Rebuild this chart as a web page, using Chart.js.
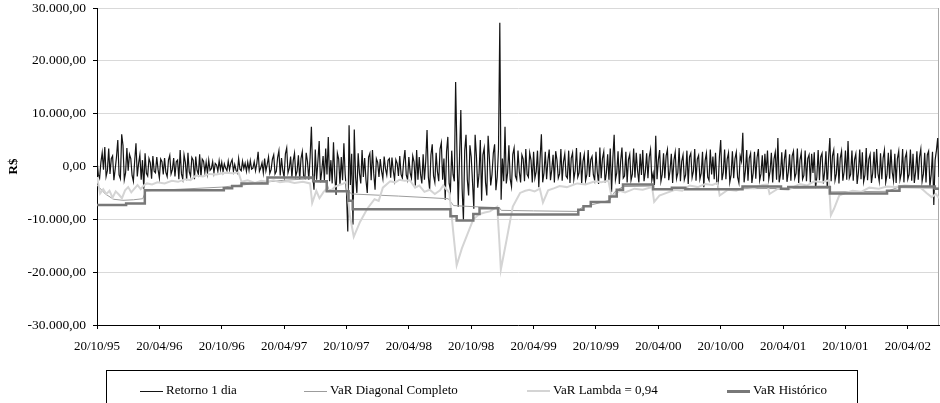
<!DOCTYPE html>
<html><head><meta charset="utf-8">
<script src="https://cdn.jsdelivr.net/npm/chart.js@4.4.1/dist/chart.umd.min.js"></script>
<style>
html,body{margin:0;padding:0;background:#fff;width:940px;height:403px;overflow:hidden;}
#wrap{position:relative;width:940px;height:403px;}
canvas{position:absolute;left:0;top:0;}
#legend{position:absolute;left:106px;top:370px;width:752px;height:45px;border:1px solid #000;box-sizing:border-box;font-family:"Liberation Serif","Times New Roman",serif;font-size:13px;color:#000;}
.item{position:absolute;top:11px;height:16px;line-height:16px;white-space:nowrap;}
.sw{display:inline-block;width:23px;vertical-align:middle;margin-right:3px;}
</style></head>
<body><div id="wrap"><canvas id="c" width="940" height="403"></canvas><div id="legend"></div></div>
<script>
// ---- data ----
const tickLabels = ['20/10/95','20/04/96','20/10/96','20/04/97','20/10/97','20/04/98','20/10/98','20/04/99','20/10/99','20/04/00','20/10/00','20/04/01','20/10/01','20/04/02'];
const tickMonths = [0,6,12,18,24,30,36,42,48,54,60,66,72,78]; // months after 20/10/95
const lastMonth = 81;
const retornoStep = 0.125; // months between samples
const retorno = [
 1200,-1500,-2200,800,2600,-600,3700,-1900,-800,3400,-1400,1500,2000,-2600,-500,1800,
 5000,-1600,-2300,6100,4000,-2500,-1200,3500,-800,2300,1500,-1700,-2800,1100,4400,-1900,
 600,2200,-2500,1200,-4200,2500,-1300,-1800,1500,700,-2300,2000,-900,-1200,1800,-600,
 -2200,1400,900,-1500,1600,-1100,-1900,1200,2100,-1400,-600,1600,-1900,900,1200,-2400,
 3100,-1400,-2400,2200,800,-2600,2600,-1000,-1800,1700,1200,-2400,1900,-700,-1500,2300,
 -2000,1400,1000,-1100,800,-1300,1200,-700,-400,900,-1200,600,300,-900,1100,-600,
 800,-1000,500,-300,-800,1000,-600,700,1300,-900,400,-700,-1200,1500,-500,-800,
 1000,-400,600,-900,800,-700,1100,-500,-300,900,-800,600,2800,-900,-300,700,
 -1200,1500,-800,400,1800,-1300,-600,1400,2200,-1400,-900,1700,3000,-1700,1600,-800,
 -2000,2400,3500,-1200,-300,1900,-2100,1100,2500,-1800,-900,2100,-2400,1500,2800,-1800,
 -2200,2600,900,-2500,1700,7500,-1500,-4400,3200,-2500,1000,4800,-3000,-800,2000,-2700,
 3400,-1500,5600,-2800,1200,-3200,4600,-1800,-5400,2500,1400,-3500,1800,-2600,4400,-1500,
 -4800,-12300,7800,-3500,2400,-11000,7000,-2000,-5000,2500,-1300,-3200,3100,-2000,1600,-2600,
 -5000,1800,2500,-2600,3100,-1400,-4400,1500,800,-2000,1400,-900,-2300,1900,-400,-1600,
 1200,1500,-2100,1700,-800,-2500,1300,600,-1800,2000,-1500,-2200,1000,3100,-1600,-2500,
 1800,-1200,-2200,2000,900,-3600,3100,-2500,1800,-1500,-3200,2300,-2500,1000,6900,-2000,
 -4400,2200,4200,-1800,-3000,2600,-1000,-2800,3300,4500,-2500,1500,-6300,2800,5600,-3200,
 -4500,3000,-1500,-2800,16000,3000,-7600,1500,10700,-4200,-10100,3000,6000,-2500,-5500,4000,
 1800,-3000,-8000,6000,2000,-4000,-1500,5000,-6500,2200,3500,-3000,-5500,5800,1500,-3600,
 -1500,2500,4200,-4500,-2000,3300,27200,-6300,1500,-2800,7500,-3200,-1200,4000,-2400,-3800,
 2300,3500,-1800,-2500,3000,-1000,-3000,2200,1400,-2800,3300,-1500,-2000,2600,1200,-3000,
 2800,-2200,-1000,3000,-3900,1500,6100,-3000,-1200,2800,-2400,1100,3200,-2600,-600,2200,
 -3000,2900,1200,-2200,-1400,3300,-2700,900,2400,-1800,-2200,3000,-3100,1600,2600,-2400,
 -800,3500,-2000,-1200,2700,-3200,1000,2300,-2700,-1500,3100,-2000,1300,1900,-1600,-2600,
 2800,-1000,-3300,3600,-2200,1500,2800,-3000,-1200,2300,-2600,3400,-4800,1500,6000,-2500,
 -1200,2900,-3300,1000,3600,-2200,-1800,2800,-3000,1300,2300,-2600,-1500,3400,-2100,2600,
 -800,-3000,2400,-1600,3100,-2800,-1000,2500,-2200,1800,3200,-2600,-1300,-3500,5800,-2400,
 1200,3100,-2800,-1500,2500,-2200,2000,3200,-2600,-800,2400,-3100,1200,2700,-2300,-1200,
 3500,-2800,1000,2200,-2500,-1600,3000,-3300,1800,2500,-2100,-900,3300,-2700,1400,2100,
 -2400,-1300,2800,-3900,1100,2500,-2000,-2600,3200,-1500,1900,-2400,2600,-3000,-3900,1800,
 5000,-2600,-1100,3200,-2400,1400,2600,-3000,-1600,2900,-2200,1500,2700,-2000,-3100,2000,
 1000,6400,-3000,-800,3100,-2700,1600,2500,-3100,-1200,2800,-2300,1700,3300,-2600,-1400,
 2100,-2800,2400,-1200,3000,-2400,-900,2600,-3000,1400,2700,-2500,5400,-3000,-1500,2700,
 -2500,1300,3200,-2900,-1100,2300,-2700,2000,2900,-2200,-1300,3400,-3100,1200,2600,-2400,
 -1700,3000,-2800,1500,2200,-3000,2400,-1200,2700,-4100,-2000,3100,-2600,1800,2500,-3200,
 -1000,2900,-4100,1500,5400,-2800,2000,3100,-2600,-1400,2500,-3200,1600,2900,-2700,-1000,
 3000,-2500,4800,-2200,-1500,3000,-2700,1300,2400,-3300,-1100,3200,-2400,2700,-2900,-1600,
 3500,-2600,1400,2300,-3100,-1200,2800,-2200,3300,-1300,-2800,2500,-2400,1600,3100,-3000,
 -1500,2600,-2300,3200,-1100,-2700,2400,-3100,1500,2900,-2500,-1300,3300,-3000,1700,2600,
 -2400,-1500,3200,-2700,2400,-3100,-1000,2900,-2500,1800,3300,-2800,-1400,2600,-3000,2200,
 2900,-3800,-1500,2800,-7300,1200,3000,5400,-2000
];
const diagMes   = [0,0.8,1.6,2.5,3.5,4.4,4.7,8,12,14,16,18,20.7,20.9,22.1,22.3,24.2,24.5,29,33.8,34.3,36.2,38.7,38.9,42,46.2,46.7,49.3,49.8,50.6,53.4,53.6,62,70.4,70.6,76,77,81];
const diagValor = [-3500,-5200,-6200,-6400,-6300,-6100,-4600,-4300,-3900,-3500,-3000,-2600,-2300,-2900,-3000,-4400,-4700,-5200,-5600,-6100,-7400,-7600,-7800,-8300,-8400,-8500,-7700,-6400,-4800,-3800,-3700,-4200,-4200,-4100,-4800,-4700,-4000,-4100];
const lambdaMes = [0,0.3,0.6,0.9,1.2,1.5,1.8,2.1,2.4,2.7,3,3.3,3.6,3.9,4.2,4.5,4.8,5.3,5.8,6.5,7.2,7.8,8.5,9,9.5,10.2,10.8,11.5,12.3,13,13.6,13.9,14.5,15.2,15.8,16.4,17,17.6,18.3,19,19.8,20.5,20.7,21.1,21.4,21.8,22.1,22.5,22.9,23.3,23.65,24,24.3,24.7,25.3,26,26.7,27.1,27.5,28.2,28.7,29.1,29.6,30.1,30.6,31,31.5,32,32.5,33,33.3,33.9,34.3,34.6,35.1,35.6,36.2,36.8,37.3,37.8,38.5,38.7,38.85,39.4,40,40.7,41.2,41.6,42.1,42.6,42.9,43.4,44,44.5,45.2,46.2,47,47.9,48.5,49.2,49.5,50.3,50.8,51.7,52.5,53.4,53.6,54.1,54.8,55.6,56.3,57,57.8,58.5,59.2,59.7,59.9,60.7,61.5,62.3,63.2,64,64.5,64.7,65.5,66.5,67.6,68.3,69,69.7,70.4,70.6,70.9,71.4,72,72.7,73.5,74.3,75.2,76,76.8,77.7,78.4,79.1,79.8,80.3,80.7,81];
const lambdaValor = [-2000,-5100,-4300,-5200,-4600,-5900,-4700,-5300,-6000,-4500,-3900,-4900,-4200,-3500,-4300,-3600,-3200,-3400,-3000,-3200,-2700,-2900,-2400,-2600,-1700,-1900,-1400,-1500,-1200,-1300,-1100,-2900,-2600,-3100,-2700,-2900,-2600,-3000,-2800,-3100,-2900,-3200,-6900,-4600,-6000,-4800,-4200,-4600,-3800,-3500,-3300,-2900,-9000,-13300,-10500,-8000,-6200,-6500,-4000,-2800,-3000,-2500,-2700,-2600,-4000,-3600,-4800,-4400,-5200,-4500,-3600,-5000,-13000,-18700,-15500,-13000,-10000,-9000,-8700,-8500,-7600,-14000,-19500,-13900,-7600,-5000,-4600,-4400,-4700,-4200,-6800,-4500,-4100,-3700,-3900,-3200,-3400,-2800,-3000,-2700,-5700,-4600,-4900,-4200,-4400,-3900,-6700,-5500,-5000,-4400,-4600,-3600,-3900,-3300,-3500,-3100,-5500,-4400,-4600,-3800,-4100,-3500,-3400,-5200,-4200,-4400,-3300,-3600,-2800,-3000,-2600,-9200,-8000,-5500,-5000,-4600,-4800,-4000,-4200,-3800,-3900,-3600,-3700,-3800,-5000,-5800,-5200,-6000];
const histMes   = [0,2.8,4.6,12.2,13,13.9,16.4,20.8,22.1,24.2,24.6,34,34.6,36.2,36.8,38.6,46.3,46.8,47.5,49.3,50,50.6,53.5,55.3,56.6,62.1,65.8,66.5,70.5,76,77.2,80.6,81];
const histValor = [-7300,-7000,-4500,-4100,-3700,-3200,-2100,-2800,-4700,-6500,-8100,-9400,-10200,-9000,-7900,-9100,-8200,-7500,-6700,-5700,-4400,-3400,-4300,-4000,-4300,-3800,-4200,-3900,-5100,-4600,-3800,-4200,-4200];
const yTicks = [-30000,-20000,-10000,0,10000,20000,30000];

// ---- helpers ----
function fmt(v){
  const s = v < 0 ? '-' : '';
  const a = Math.abs(Math.round(v)).toString().replace(/\B(?=(\d{3})+(?!\d))/g,'.');
  return s + a + ',00';
}
const pts = (xs, ys) => xs.map((x,i)=>({x:x, y:ys[i]}));

const series = [
  {label:'Retorno 1 dia', data: retorno.map((v,i)=>({x:i*retornoStep, y:v})), borderColor:'#141414', borderWidth:1.2, order:4, swH:1},
  {label:'VaR Diagonal Completo', data: pts(diagMes, diagValor), borderColor:'#9c9c9c', borderWidth:1, order:3, swH:1},
  {label:'VaR Lambda = 0,94', data: pts(lambdaMes, lambdaValor), borderColor:'#d4d4d4', borderWidth:2, order:2, swH:2},
  {label:'VaR Histórico', data: pts(histMes, histValor), borderColor:'#787878', borderWidth:2.5, order:1, stepped:true, swH:3}
];

Chart.defaults.font.family = '"Liberation Serif","Times New Roman",serif';
Chart.defaults.font.size = 13;
Chart.defaults.color = '#000';

const framePlugin = {
  id:'frame',
  beforeDatasetsDraw(c){
    const {ctx, chartArea:a} = c;
    ctx.save();
    ctx.strokeStyle = '#a8a8a8'; ctx.lineWidth = 1;
    ctx.beginPath(); ctx.moveTo(a.right-0.5, a.top); ctx.lineTo(a.right-0.5, a.bottom); ctx.stroke();
    ctx.restore();
  }
};

new Chart(document.getElementById('c'), {
  type:'line',
  data:{ datasets: series.map(s=>({label:s.label, data:s.data, borderColor:s.borderColor, backgroundColor:s.borderColor, borderWidth:s.borderWidth, order:s.order, stepped:!!s.stepped, pointRadius:0, tension:0, fill:false})) },
  options:{
    responsive:false, animation:false, devicePixelRatio:1,
    layout:{padding:{left:0, right:1, top:8, bottom:48}},
    plugins:{legend:{display:false}, tooltip:{enabled:false}},
    scales:{
      x:{ type:'linear', min:0, max:lastMonth,
          afterBuildTicks: s => { s.ticks = tickMonths.map(v=>({value:v})); },
          afterFit: s => { s.height = 30; s.paddingLeft = 0; s.paddingRight = 0; },
          ticks:{ autoSkip:false, maxRotation:0, padding:10, callback:(v)=>tickLabels[tickMonths.indexOf(v)] },
          grid:{ drawOnChartArea:false, drawTicks:true, tickLength:4, tickColor:'#000' },
          border:{ display:true, color:'#000', width:1 } },
      y:{ type:'linear', min:-30000, max:30000,
          afterBuildTicks: s => { s.ticks = yTicks.map(v=>({value:v})); },
          afterFit: s => { s.width = 97; s.paddingTop = 0; s.paddingBottom = 0; },
          ticks:{ padding:7, font:{size:13.5}, callback:(v)=>fmt(v) },
          grid:{ color:'#d9d9d9', tickColor:'#000', tickLength:4 },
          border:{ display:true, color:'#000', width:1 },
          title:{ display:true, text:'R$', font:{weight:'bold', size:13}, padding:{top:6, bottom:0} } }
    }
  },
  plugins:[framePlugin]
});

// HTML legend
const legendLeft = [33, 197, 420, 620];
const lg = document.getElementById('legend');
series.forEach((s,i)=>{
  const d = document.createElement('div');
  d.className = 'item'; d.style.left = legendLeft[i] + 'px';
  const sw = document.createElement('span'); sw.className = 'sw';
  sw.style.borderTop = s.swH + 'px solid ' + s.borderColor;
  d.appendChild(sw);
  d.appendChild(document.createTextNode(s.label));
  lg.appendChild(d);
});
</script></body></html>
